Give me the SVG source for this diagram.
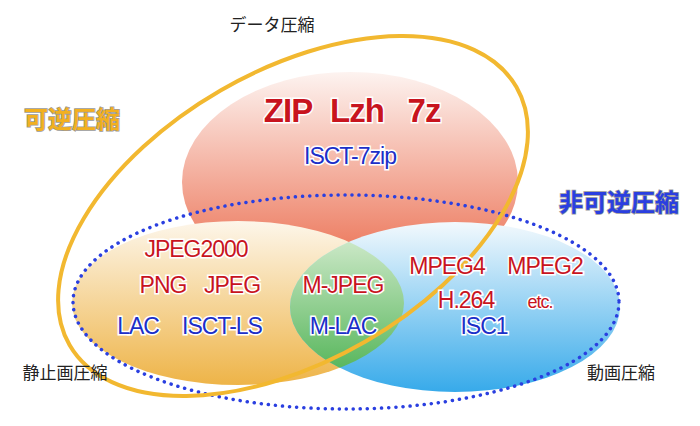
<svg xmlns="http://www.w3.org/2000/svg" width="700" height="426" viewBox="0 0 700 426">
<style>
.lab{font-family:"Noto Sans CJK JP","Liberation Sans",sans-serif;font-size:17px;fill:#222;text-anchor:middle}
.big{font-family:"Noto Sans CJK JP",sans-serif;font-size:24px;font-weight:bold;text-anchor:middle;stroke:#999;stroke-width:1.5px;paint-order:stroke}
.t{font-family:"Liberation Sans",Arial,sans-serif;font-size:23px;text-anchor:middle;stroke:#fff;stroke-width:3px;paint-order:stroke;letter-spacing:-1px}
.r{fill:#c8141e}.b{fill:#1c2fc8}
.z{font-size:33px;font-weight:bold}
</style>
<defs>
<linearGradient id="gr" x1="0" y1="0" x2="0" y2="1"><stop offset="0" stop-color="#fdf3f0"/><stop offset="1" stop-color="#e9603f"/></linearGradient>
<linearGradient id="go" x1="0" y1="0" x2="0" y2="1"><stop offset="0" stop-color="#fdf6ea"/><stop offset="1" stop-color="#eeb448"/></linearGradient>
<linearGradient id="gb" x1="0" y1="0" x2="0" y2="1"><stop offset="0" stop-color="#f3f9fd"/><stop offset="1" stop-color="#37aaea"/></linearGradient>
<linearGradient id="gg" x1="0" y1="0" x2="0" y2="1"><stop offset="0" stop-color="#dcefd6"/><stop offset="1" stop-color="#44ae4a"/></linearGradient>
<clipPath id="co"><ellipse cx="238" cy="303" rx="166" ry="82"/></clipPath>
</defs>
<rect width="700" height="426" fill="#fff"/>
<g id="data"><ellipse cx="350" cy="182" rx="168" ry="110" fill="url(#gr)"/></g>
<g id="still"><ellipse cx="238" cy="303" rx="166" ry="82" fill="url(#go)"/></g>
<g id="video"><ellipse cx="455" cy="307" rx="165" ry="85" fill="url(#gb)"/>
<ellipse cx="455" cy="307" rx="165" ry="85" fill="url(#gg)" clip-path="url(#co)"/></g>
<g id="lossy"><ellipse cx="346" cy="302" rx="273" ry="107" fill="none" stroke="#2a3fe0" stroke-width="3.5" stroke-dasharray="0.1 7" stroke-linecap="round"/></g>
<g id="lossless"><ellipse cx="293" cy="216" rx="258" ry="145" transform="rotate(-30 293 216)" fill="none" stroke="#f2b830" stroke-width="4"/></g>
<g id="labels">
<text class="lab" x="272" y="31">データ圧縮</text>
<text class="lab" x="65" y="379">静止画圧縮</text>
<text class="lab" x="621" y="379">動画圧縮</text>
<text class="big" x="72" y="128" fill="#f2b020">可逆圧縮</text>
<text class="big" x="619" y="211" fill="#2a3fe0">非可逆圧縮</text>
</g>
<g id="items">
<text class="t r z" x="288" y="122">ZIP</text>
<text class="t r z" x="357" y="122">Lzh</text>
<text class="t r z" x="424" y="122">7z</text>
<text class="t b" x="350" y="164">ISCT-7zip</text>
<text class="t r" x="196" y="257">JPEG2000</text>
<text class="t r" x="163" y="293">PNG</text>
<text class="t r" x="232" y="293">JPEG</text>
<text class="t b" x="138" y="334">LAC</text>
<text class="t b" x="222" y="334">ISCT-LS</text>
<text class="t r" x="343" y="293">M-JPEG</text>
<text class="t b" x="343" y="334">M-LAC</text>
<text class="t r" x="447" y="274">MPEG4</text>
<text class="t r" x="545" y="274">MPEG2</text>
<text class="t r" x="466" y="308">H.264</text>
<text class="t r" x="540" y="308" style="font-size:18px">etc.</text>
<text class="t b" x="484" y="334">ISC1</text>
</g>
</svg>
